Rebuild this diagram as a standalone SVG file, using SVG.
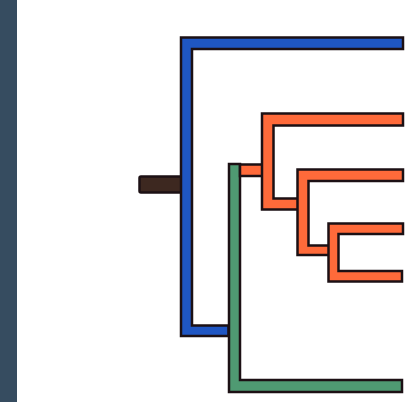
<svg xmlns="http://www.w3.org/2000/svg" width="407" height="402" viewBox="0 0 407 402">
  <style>
    .edge { stroke: #1c1014; stroke-width: 2.5; stroke-linejoin: miter; }
    .blue { fill: #1f56c3; }
    .green { fill: #4f9a72; }
    .orange { fill: #ff6a3a; }
    .root { fill: #3d2820; }
  </style>
  <rect x="0" y="0" width="407" height="402" fill="#ffffff"/>
  <rect id="sidebar" x="0" y="0" width="17" height="402" fill="#364c60"/>

  <g id="connectors">
    <!-- root stub -->
    <rect id="root-stub" class="edge root" x="139.5" y="176.5" width="43" height="16" rx="1.5"/>
    <!-- outer clade (blue) -->
    <polygon id="clade-blue" class="edge blue" points="181,37.5 403,37.5 403,49 192,49 192,325.5 228.5,325.5 228.5,336 181,336"/>
    <!-- green clade -->
    <polygon id="clade-green" class="edge green" points="229,164 240,164 240,380 402,380 402,392 229,392"/>
    <!-- link from green to orange -->
    <rect id="link-orange" class="edge orange" x="240" y="164.5" width="24" height="11.5"/>
    <!-- orange clades -->
    <polygon id="clade-orange-1" class="edge orange" points="262,113.5 403,113.5 403,125.5 273.5,125.5 273.5,198.5 301,198.5 301,209.5 262,209.5"/>
    <polygon id="clade-orange-2" class="edge orange" points="297.5,169.5 403,169.5 403,181 308.5,181 308.5,245.5 330,245.5 330,255 297.5,255"/>
    <polygon id="clade-orange-3" class="edge orange" points="328.5,223.5 403,223.5 403,234 338.5,234 338.5,271 402,271 402,281.5 328.5,281.5"/>
  </g>
</svg>
